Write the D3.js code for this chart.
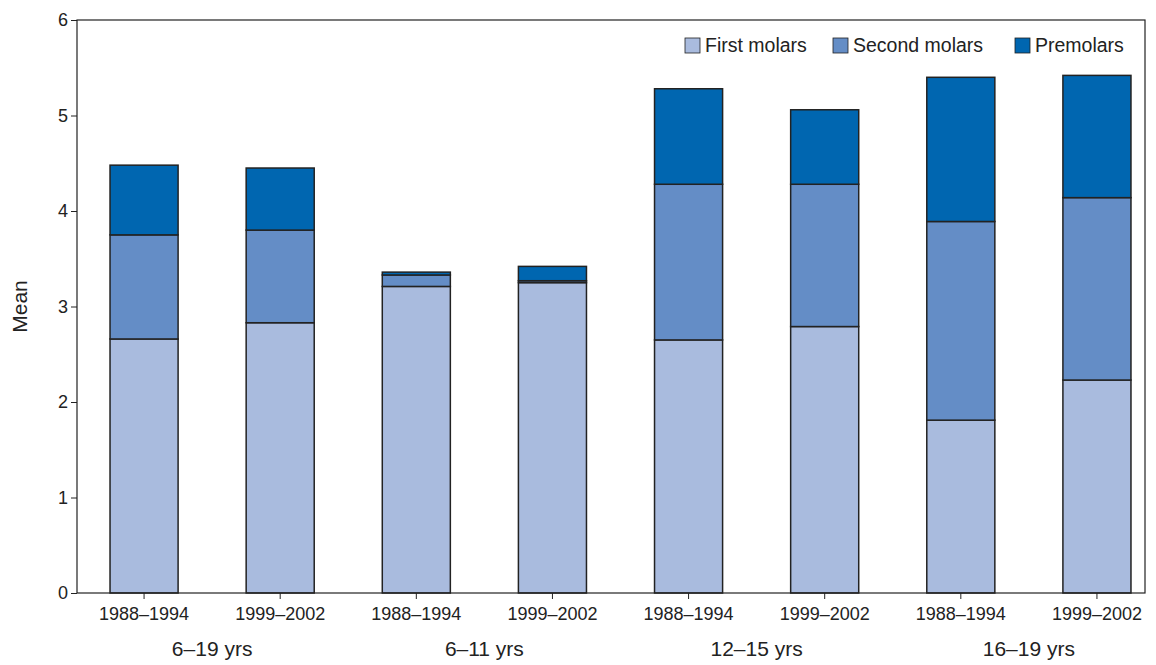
<!DOCTYPE html>
<html><head><meta charset="utf-8">
<script src="https://cdn.jsdelivr.net/npm/d3@7"></script>
<style>body{margin:0;background:#fff;} text{font-family:"Liberation Sans",Arial,sans-serif;}</style>
</head><body><div id="chart"></div>
<script>
var periods = ["1988–1994","1999–2002","1988–1994","1999–2002","1988–1994","1999–2002","1988–1994","1999–2002"];
var ageGroups = ["6–19 yrs","6–11 yrs","12–15 yrs","16–19 yrs"];
var seriesNames = ["First molars","Second molars","Premolars"];
// segment heights
var firstMolars = [2.66, 2.83, 3.21, 3.25, 2.65, 2.79, 1.81, 2.23];
var secondMolars = [1.09, 0.97, 0.12, 0.02, 1.63, 1.49, 2.08, 1.91];
var premolars = [0.73, 0.65, 0.03, 0.15, 1.00, 0.78, 1.51, 1.28];
var colors = ["#a9bbde","#648dc6","#0066b0"];
var yTicks = [0,1,2,3,4,5,6];

var svgWidth = 1156, svgHeight = 665;
var margin = {top: 20, right: 11, bottom: 72, left: 77};
var width = svgWidth - margin.left - margin.right;
var height = svgHeight - margin.top - margin.bottom;

var svg = d3.select("#chart").append("svg").attr("width", svgWidth).attr("height", svgHeight);
var g = svg.append("g").attr("transform", `translate(${margin.left},${margin.top})`);

var idx = d3.range(periods.length);
var x = d3.scaleBand().domain(idx).range([-1, width + 20]).paddingInner(0.5).paddingOuter(0.25);
var y = d3.scaleLinear().domain([0, 6]).range([height, 0]);

var rows = idx.map(i => ({i: i, a: firstMolars[i], b: secondMolars[i], c: premolars[i]}));
var stack = d3.stack().keys(["a","b","c"])(rows);

g.selectAll("g.layer").data(stack).enter().append("g")
  .attr("fill", (d, k) => colors[k])
  .selectAll("rect").data(d => d).enter().append("rect")
  .attr("x", d => x(d.data.i))
  .attr("width", x.bandwidth())
  .attr("y", d => y(d[1]))
  .attr("height", d => y(d[0]) - y(d[1]))
  .attr("stroke", "#222").attr("stroke-width", 1.5);

// frame
g.append("rect").attr("width", width).attr("height", height)
  .attr("fill", "none").attr("stroke", "#222").attr("stroke-width", 1.2);

var yAxis = g.append("g").call(d3.axisLeft(y).tickValues(yTicks).tickSize(6).tickFormat(d3.format("d")));
yAxis.select(".domain").remove();
yAxis.selectAll("text").attr("font-size", 18).attr("fill", "#222");
yAxis.selectAll("line").attr("stroke", "#222");

var xAxis = g.append("g").attr("transform", `translate(0,${height})`)
  .call(d3.axisBottom(x).tickSize(6).tickFormat(i => periods[i]));
xAxis.select(".domain").remove();
xAxis.selectAll("text").attr("font-size", 18).attr("fill", "#222").attr("dy", "1em");
xAxis.selectAll("line").attr("stroke", "#222");

ageGroups.forEach(function(a, k) {
  var cx = (x(2*k) + x(2*k+1) + x.bandwidth()) / 2;
  g.append("text").attr("x", cx).attr("y", height + 63).attr("text-anchor", "middle")
    .attr("font-size", 21).attr("fill", "#222").text(a);
});

g.append("text").attr("transform", "rotate(-90)")
  .attr("x", -height/2).attr("y", -50).attr("text-anchor", "middle")
  .attr("font-size", 21).attr("fill", "#222").text("Mean");

// legend
var legX = [608, 756, 938];
seriesNames.forEach(function(s, k) {
  var lg = g.append("g").attr("transform", `translate(${legX[k]},18)`);
  lg.append("rect").attr("width", 15).attr("height", 15).attr("fill", colors[k])
    .attr("stroke", "#222").attr("stroke-width", 0.8);
  lg.append("text").attr("x", 20).attr("y", 14).attr("font-size", 19.5).attr("fill", "#222").text(s);
});
</script></body></html>
